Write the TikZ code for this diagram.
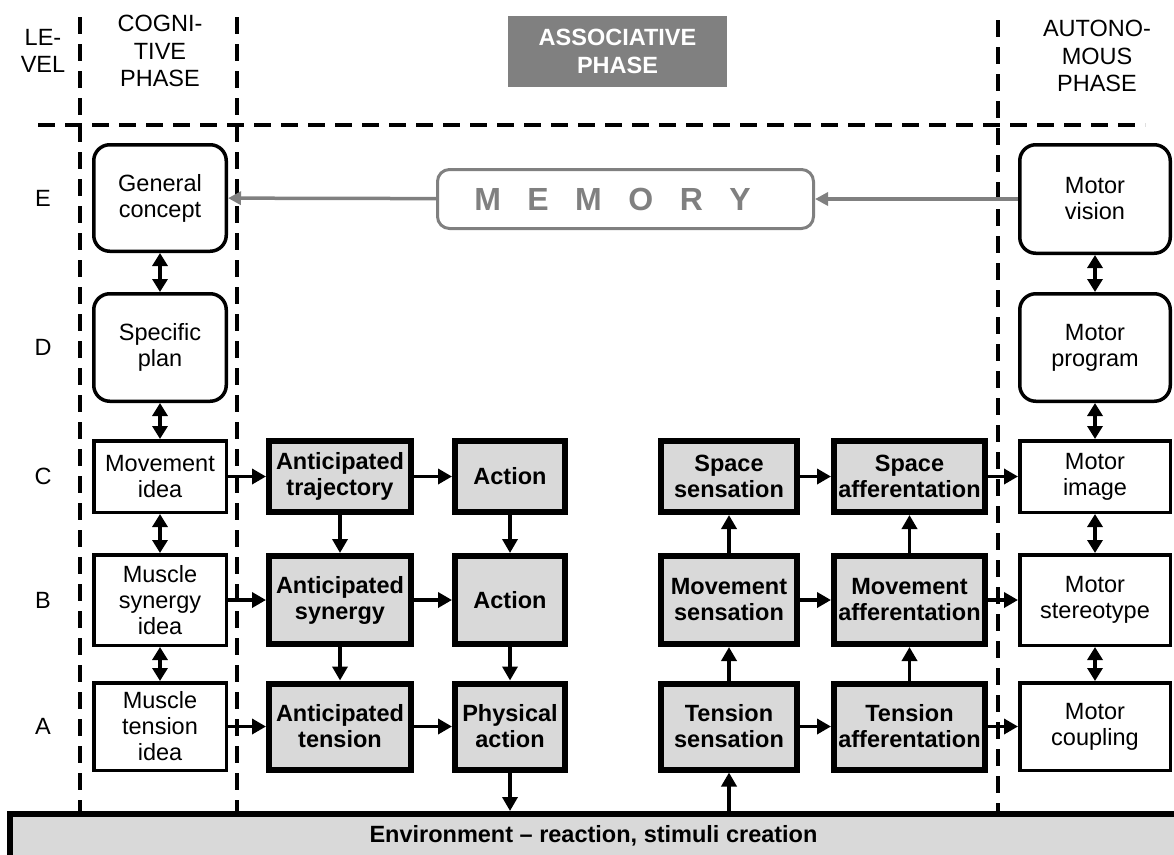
\documentclass[tikz,border=0pt]{standalone}
\usepackage{fontspec}
\setmainfont{Liberation Sans}
\usetikzlibrary{arrows.meta}
\definecolor{boxgray}{HTML}{D9D9D9}
\definecolor{memgray}{HTML}{808080}
\tikzset{
  txt/.style={font=\fontsize{23.5}{26}\selectfont, align=center, inner sep=0pt},
  head/.style={font=\fontsize{23.5}{27.5}\selectfont, align=center, inner sep=0pt},
  idea/.style={txt, draw, fill=white, line width=3.5pt},
  plan/.style={idea, rounded corners=16pt},
  sense/.style={txt, draw, fill=boxgray, line width=6pt, font=\fontsize{23.5}{26}\selectfont\bfseries},
  arr/.style={line width=3.5pt, -{Triangle[length=14pt,width=15pt]}},
  darr/.style={line width=3.5pt, {Triangle[length=13pt,width=15pt]}-{Triangle[length=13pt,width=15pt]}},
  memarr/.style={memgray, line width=3.5pt, -{Triangle[length=13pt,width=13pt]}},
  sep/.style={line width=4pt, dash pattern=on 17pt off 10pt},
}
\begin{document}
\begin{tikzpicture}[x=1pt,y=-1pt]
	\useasboundingbox (0,0) rectangle (1174,854) ;
	% phase borders
	\draw[sep] (80,17) -- (80,811) ;
	\draw[sep] (237,17) -- (237,811) ;
	\draw[sep] (998,20) -- (998,811) ;
	\draw[sep] (38,125) -- (1145,125) ;
	% header
	\node (lvl)[head] at (43,51) {LE-\\VEL} ;
	\node (cog)[head] at (160,51) {COGNI-\\TIVE\\PHASE} ;
	\node (assoc)[head, fill=memgray, text=white, font=\fontsize{23.5}{27.5}\selectfont\bfseries, minimum width=219pt, minimum height=71pt] at (617.5,51.5) {ASSOCIATIVE\\PHASE} ;
	\node (auto)[head] at (1097,56) {AUTONO-\\MOUS\\PHASE} ;
	% levels
	\node (lE)[txt] at (43,198) {E} ;
	\node (lD)[txt] at (43,347) {D} ;
	\node (lC)[txt] at (43,476) {C} ;
	\node (lB)[txt] at (43,600) {B} ;
	\node (lA)[txt] at (43,726) {A} ;
	% cognitive phase
	\node (gen)[plan, minimum width=132.5pt, minimum height=106.5pt] at (160,198) {General\\concept} ;
	\node (spec)[plan, minimum width=132.5pt, minimum height=107.5pt] at (160,347.5) {Specific\\plan} ;
	\node (movidea)[idea, minimum width=132.5pt, minimum height=71.5pt] at (160,476.5) {Movement\\idea} ;
	\node (synidea)[idea, minimum width=132.5pt, minimum height=90.5pt] at (160,600) {Muscle\\synergy\\idea} ;
	\node (tenidea)[idea, minimum width=132.5pt, minimum height=87.5pt] at (160,726.5) {Muscle\\tension\\idea} ;
	% associative phase
	\node (mem)[txt, draw=memgray, text=memgray, line width=3pt, rounded corners=12pt, minimum width=376pt, minimum height=59pt, font=\fontsize{32}{36}\selectfont\bfseries] at (625.5,199) {M\hspace{26.5pt}E\hspace{26.5pt}M\hspace{26.5pt}O\hspace{26.5pt}R\hspace{26.5pt}Y\hspace*{26pt}} ;
	\node (antraj)[sense, minimum width=142pt, minimum height=71pt] at (340,476.5) {Anticipated\\trajectory} ;
	\node (act1)[sense, minimum width=110pt, minimum height=71pt] at (510,476.5) {Action} ;
	\node (antsyn)[sense, minimum width=142pt, minimum height=88pt] at (340,600) {Anticipated\\synergy} ;
	\node (act2)[sense, minimum width=110pt, minimum height=88pt] at (510,600) {Action} ;
	\node (antten)[sense, minimum width=142pt, minimum height=86pt] at (340,726.5) {Anticipated\\tension} ;
	\node (phys)[sense, minimum width=110pt, minimum height=86pt] at (510,726.5) {Physical\\action} ;
	\node (ssens)[sense, minimum width=136pt, minimum height=71pt] at (729,476.5) {Space\\sensation} ;
	\node (saff)[sense, minimum width=151pt, minimum height=71pt] at (909.5,476.5) {Space\\afferentation} ;
	\node (msens)[sense, minimum width=136pt, minimum height=88pt] at (729,600) {Movement\\sensation} ;
	\node (maff)[sense, minimum width=151pt, minimum height=88pt] at (909.5,600) {Movement\\afferentation} ;
	\node (tsens)[sense, minimum width=136pt, minimum height=86pt] at (729,726.5) {Tension\\sensation} ;
	\node (taff)[sense, minimum width=151pt, minimum height=86pt] at (909.5,726.5) {Tension\\afferentation} ;
	% autonomous phase
	\node (vision)[plan, minimum width=150.5pt, minimum height=108.5pt] at (1095,199) {Motor\\vision} ;
	\node (program)[plan, minimum width=150.5pt, minimum height=107.5pt] at (1095,347.5) {Motor\\program} ;
	\node (image)[idea, minimum width=150.5pt, minimum height=71.5pt] at (1095,476.5) {Motor\\image} ;
	\node (stereo)[idea, minimum width=150.5pt, minimum height=90.5pt] at (1095,600) {Motor\\stereotype} ;
	\node (coupling)[idea, minimum width=150.5pt, minimum height=87.5pt] at (1095,726.5) {Motor\\coupling} ;
	% environment
	\node (env)[sense, minimum width=1167pt, minimum height=44pt] at (593.5,836) {Environment – reaction, stimuli creation} ;
	% connectors
	\draw[memarr] (vision) -- (mem) ;
	\draw[memarr] (mem) -- (gen) ;
	\draw[darr] (gen) -- (spec) ;
	\draw[darr] (spec) -- (movidea) ;
	\draw[darr] (movidea) -- (synidea) ;
	\draw[darr] (synidea) -- (tenidea) ;
	\draw[darr] (vision) -- (program) ;
	\draw[darr] (program) -- (image) ;
	\draw[darr] (image) -- (stereo) ;
	\draw[darr] (stereo) -- (coupling) ;
	\draw[arr] (movidea) -- (antraj) ;
	\draw[arr] (antraj) -- (act1) ;
	\draw[arr] (synidea) -- (antsyn) ;
	\draw[arr] (antsyn) -- (act2) ;
	\draw[arr] (tenidea) -- (antten) ;
	\draw[arr] (antten) -- (phys) ;
	\draw[arr] (antraj) -- (antsyn) ;
	\draw[arr] (antsyn) -- (antten) ;
	\draw[arr] (act1) -- (act2) ;
	\draw[arr] (act2) -- (phys) ;
	\draw[arr] (phys) -- (phys |- env.north) ;
	\draw[arr] (tsens |- env.north) -- (tsens) ;
	\draw[arr] (tsens) -- (msens) ;
	\draw[arr] (msens) -- (ssens) ;
	\draw[arr] (taff) -- (maff) ;
	\draw[arr] (maff) -- (saff) ;
	\draw[arr] (ssens) -- (saff) ;
	\draw[arr] (msens) -- (maff) ;
	\draw[arr] (tsens) -- (taff) ;
	\draw[arr] (saff) -- (image) ;
	\draw[arr] (maff) -- (stereo) ;
	\draw[arr] (taff) -- (coupling) ;
\end{tikzpicture}
\end{document}
